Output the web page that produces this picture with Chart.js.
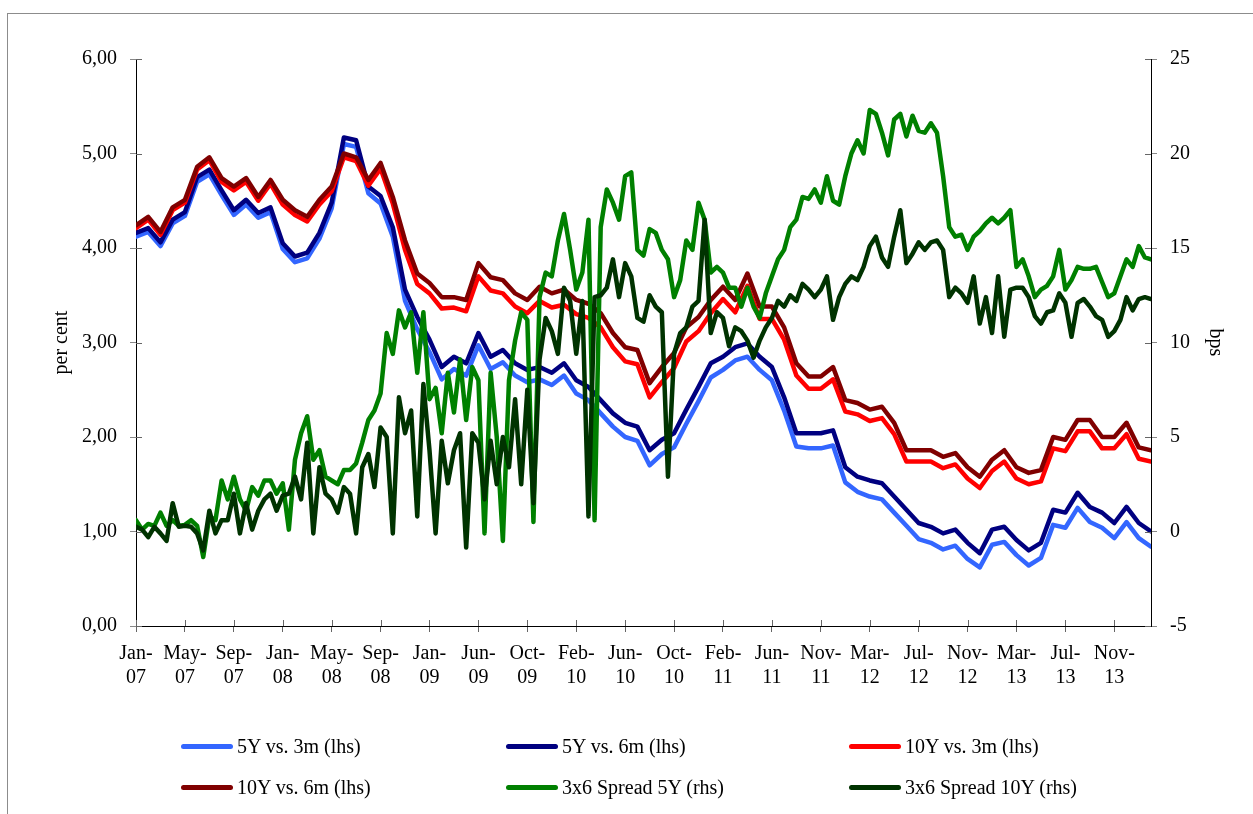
<!DOCTYPE html>
<html>
<head>
<meta charset="utf-8">
<script src="https://cdn.jsdelivr.net/npm/chart.js@4.4.0/dist/chart.umd.min.js"></script>
<style>
    body { margin: 0; background: #fff; }
    #wrap { position: relative; width: 1253px; height: 814px; }
    .legend-item {
        position: absolute;
        height: 24px;
        line-height: 24px;
        font: 20px 'Liberation Serif', 'Times New Roman', serif;
        color: #000;
        white-space: nowrap;
        display: flex;
        align-items: center;
    }
    .legend-item .swatch {
        display: inline-block;
        width: 52px;
        height: 5px;
        border-radius: 3px;
        margin-right: 4px;
    }
</style>
</head>
<body>
<div id="wrap">
    <canvas id="rates-chart" width="1253" height="814"></canvas>
    <div id="legend"></div>
</div>
<script>
// x axis tick labels (one every ~86 trading days)
const xLabels = [
    ['Jan-', '07'], ['May-', '07'], ['Sep-', '07'], ['Jan-', '08'], ['May-', '08'], ['Sep-', '08'],
    ['Jan-', '09'], ['Jun-', '09'], ['Oct-', '09'], ['Feb-', '10'], ['Jun-', '10'], ['Oct-', '10'],
    ['Feb-', '11'], ['Jun-', '11'], ['Nov-', '11'], ['Mar-', '12'], ['Jul-', '12'], ['Nov-', '12'],
    ['Mar-', '13'], ['Jul-', '13'], ['Nov-', '13']
];

// sampling step, in x-label intervals
const LHS_STEP = 0.25;
const RHS_STEP = 0.125;

// per cent (lhs)
const fiveY3m = [
    4.12, 4.17, 4.02, 4.26,  4.34, 4.70, 4.78, 4.56,  4.35, 4.46, 4.32, 4.38,
    3.99, 3.85, 3.89, 4.10,  4.42, 5.10, 5.07, 4.58,  4.47, 4.12, 3.44, 3.14,
    2.90, 2.61, 2.72, 2.65,  2.97, 2.72, 2.79, 2.65,  2.58, 2.61, 2.55, 2.65,
    2.46, 2.39, 2.25, 2.11,  2.00, 1.96, 1.70, 1.82,  1.89, 2.14, 2.38, 2.63,
    2.71, 2.81, 2.85, 2.71,  2.60, 2.28, 1.90, 1.88,  1.88, 1.91, 1.52, 1.42,
    1.37, 1.34, 1.20, 1.06,  0.92, 0.88, 0.81, 0.85,  0.71, 0.62, 0.86, 0.89,
    0.75, 0.64, 0.72, 1.07,  1.04, 1.25, 1.10, 1.04,  0.93, 1.10, 0.93, 0.84
];
const fiveY6m = [
    4.16, 4.21, 4.06, 4.30,  4.38, 4.75, 4.83, 4.61,  4.40, 4.51, 4.37, 4.43,
    4.05, 3.91, 3.95, 4.16,  4.48, 5.17, 5.14, 4.65,  4.55, 4.22, 3.56, 3.27,
    3.03, 2.74, 2.85, 2.78,  3.10, 2.85, 2.92, 2.78,  2.71, 2.74, 2.68, 2.78,
    2.60, 2.53, 2.39, 2.25,  2.15, 2.11, 1.86, 1.97,  2.04, 2.29, 2.53, 2.78,
    2.85, 2.95, 2.99, 2.85,  2.74, 2.42, 2.04, 2.04,  2.04, 2.07, 1.68, 1.58,
    1.54, 1.51, 1.37, 1.23,  1.09, 1.05, 0.98, 1.02,  0.88, 0.77, 1.02, 1.05,
    0.91, 0.80, 0.88, 1.23,  1.20, 1.41, 1.26, 1.20,  1.09, 1.26, 1.09, 1.00
];
const tenY3m = [
    4.21, 4.30, 4.14, 4.40,  4.48, 4.83, 4.93, 4.70,  4.61, 4.70, 4.50, 4.68,
    4.46, 4.35, 4.28, 4.46,  4.60, 4.96, 4.92, 4.66,  4.84, 4.47, 3.98, 3.62,
    3.52, 3.36, 3.37, 3.33,  3.70, 3.55, 3.52, 3.38,  3.31, 3.44, 3.37, 3.40,
    3.30, 3.26, 3.16, 2.95,  2.80, 2.77, 2.42, 2.58,  2.73, 3.01, 3.12, 3.31,
    3.46, 3.32, 3.60, 3.25,  3.25, 3.03, 2.65, 2.51,  2.51, 2.61, 2.27, 2.24,
    2.17, 2.20, 2.03, 1.74,  1.74, 1.74, 1.67, 1.71,  1.56, 1.46, 1.64, 1.74,
    1.56, 1.50, 1.53, 1.88,  1.85, 2.06, 2.06, 1.88,  1.88, 2.03, 1.77, 1.74
];
const tenY6m = [
    4.24, 4.33, 4.17, 4.43,  4.51, 4.86, 4.96, 4.74,  4.65, 4.74, 4.54, 4.72,
    4.51, 4.40, 4.33, 4.51,  4.65, 5.00, 4.96, 4.72,  4.90, 4.54, 4.08, 3.73,
    3.63, 3.48, 3.48, 3.45,  3.84, 3.69, 3.66, 3.52,  3.45, 3.59, 3.52, 3.56,
    3.45, 3.41, 3.31, 3.10,  2.95, 2.92, 2.57, 2.74,  2.89, 3.16, 3.27, 3.45,
    3.59, 3.45, 3.73, 3.38,  3.38, 3.16, 2.78, 2.64,  2.64, 2.74, 2.39, 2.36,
    2.29, 2.32, 2.15, 1.86,  1.86, 1.86, 1.79, 1.83,  1.68, 1.58, 1.76, 1.86,
    1.68, 1.62, 1.65, 2.00,  1.97, 2.18, 2.18, 2.00,  2.00, 2.15, 1.89, 1.86
];

// bps (rhs)
const spread5Y = [
    0.6, 0.1, 0.4, 0.3, 1.0, 0.3, 0.6, 0.3,
    0.35, 0.6, 0.3, -1.35, 0.8, 0.6, 2.7, 1.7,
    2.9, 1.7, 1.1, 2.35, 1.9, 2.7, 2.7, 2.0,
    2.55, 0.1, 3.8, 5.2, 6.1, 3.8, 4.3, 2.9,
    2.7, 2.5, 3.25, 3.25, 3.6, 4.7, 5.9, 6.4,
    7.3, 10.5, 9.4, 11.7, 10.8, 11.6, 8.4, 11.6,
    7.0, 7.6, 5.2, 8.4, 6.3, 9.1, 5.9, 8.7,
    8.0, -0.1, 8.4, 5.0, -0.5, 8.0, 10.1, 11.6,
    11.2, 0.5, 12.4, 13.7, 13.5, 15.4, 16.8, 14.9,
    12.8, 13.7, 16.5, 0.6, 16.1, 18.1, 17.4, 16.5,
    18.8, 19.0, 14.9, 14.6, 16.0, 15.8, 14.9, 14.4,
    12.4, 13.3, 15.4, 14.9, 17.4, 16.5, 13.7, 14.0,
    13.7, 12.9, 12.9, 11.9, 12.9, 11.9, 11.3, 12.6,
    13.5, 14.4, 14.9, 16.1, 16.5, 17.7, 17.6, 18.1,
    17.4, 18.8, 17.5, 17.3, 18.8, 20.0, 20.7, 20.0,
    22.3, 22.1, 21.1, 19.9, 21.8, 22.1, 20.9, 22.0,
    21.2, 21.1, 21.6, 21.1, 18.8, 16.1, 15.6, 15.7,
    14.9, 15.6, 15.9, 16.3, 16.6, 16.3, 16.6, 17.0,
    14.0, 14.4, 13.5, 12.4, 12.8, 13.0, 13.5, 14.9,
    12.8, 13.3, 14.0, 13.9, 13.9, 14.0, 13.2, 12.4,
    12.6, 13.5, 14.4, 14.0, 15.1, 14.5, 14.4
];
const spread10Y = [
    0.25, 0.1, -0.3, 0.25, -0.1, -0.5, 1.5, 0.25,
    0.3, 0.25, -0.1, -1.0, 1.1, -0.1, 0.6, 0.6,
    2.0, -0.1, 1.5, 0.1, 1.1, 1.7, 2.0, 1.1,
    1.9, 2.0, 2.9, 1.7, 4.7, -0.1, 3.4, 2.0,
    1.7, 1.0, 2.35, 2.0, -0.1, 3.4, 4.1, 2.35,
    5.5, 5.0, -0.1, 7.1, 5.2, 6.4, 0.8, 7.8,
    4.3, -0.1, 4.8, 2.55, 4.3, 5.2, -0.85, 5.2,
    4.7, 1.7, 4.8, 2.5, 5.0, 3.4, 7.0, 2.5,
    7.5, 1.5, 9.1, 11.3, 10.6, 9.4, 12.9, 12.2,
    9.4, 12.2, 0.8, 12.4, 12.5, 12.9, 14.4, 12.4,
    14.2, 13.5, 11.3, 11.1, 12.5, 11.9, 11.6, 2.9,
    9.4, 10.5, 10.8, 11.9, 12.2, 16.5, 10.5, 11.6,
    11.3, 9.8, 10.8, 10.6, 10.1, 9.2, 10.1, 10.8,
    11.3, 12.2, 11.9, 12.5, 12.2, 13.1, 12.8, 12.4,
    12.8, 13.5, 11.2, 12.4, 13.1, 13.5, 13.3, 14.0,
    15.1, 15.6, 14.5, 14.0, 15.6, 17.0, 14.2, 14.7,
    15.3, 14.9, 15.3, 15.4, 14.9, 12.4, 12.9, 12.6,
    12.1, 13.5, 11.0, 12.4, 10.5, 13.5, 10.3, 12.8,
    12.9, 12.9, 12.4, 11.4, 11.0, 11.6, 11.7, 12.6,
    12.1, 10.3, 12.1, 12.3, 11.9, 11.4, 11.2, 10.3,
    10.6, 11.2, 12.4, 11.7, 12.3, 12.4, 12.3
];

const series = [
    { label: '5Y vs. 3m (lhs)', values: fiveY3m, step: LHS_STEP, axis: 'y', color: '#3366ff' },
    { label: '5Y vs. 6m (lhs)', values: fiveY6m, step: LHS_STEP, axis: 'y', color: '#000080' },
    { label: '10Y vs. 3m (lhs)', values: tenY3m, step: LHS_STEP, axis: 'y', color: '#ff0000' },
    { label: '10Y vs. 6m (lhs)', values: tenY6m, step: LHS_STEP, axis: 'y', color: '#800000' },
    { label: '3x6 Spread 5Y (rhs)', values: spread5Y, step: RHS_STEP, axis: 'y1', color: '#008000' },
    { label: '3x6 Spread 10Y (rhs)', values: spread10Y, step: RHS_STEP, axis: 'y1', color: '#003300' }
];

const FONT = "'Liberation Serif', 'Times New Roman', serif";
Chart.defaults.font.family = FONT;
Chart.defaults.font.size = 20;
Chart.defaults.color = '#000';

// grey frame round the whole chart
const framePlugin = {
    id: 'frame',
    beforeDraw(chart) {
        const ctx = chart.ctx;
        ctx.save();
        ctx.fillStyle = '#fff';
        ctx.fillRect(0, 0, chart.width, chart.height);
        ctx.strokeStyle = '#8c8c8c';
        ctx.lineWidth = 1;
        ctx.strokeRect(7.5, 13.5, chart.width + 20, chart.height + 20);
        ctx.restore();
    }
};

// tick marks that cross the axis line (inner half)
const crossTicks = {
    id: 'crossTicks',
    afterDraw(chart) {
        const ctx = chart.ctx;
        const area = chart.chartArea;
        ctx.save();
        ctx.strokeStyle = '#666';
        ctx.lineWidth = 1;
        const x = chart.scales.x;
        x.ticks.forEach(t => {
            const px = Math.round(x.getPixelForValue(t.value)) + 0.5;
            ctx.beginPath();
            ctx.moveTo(px, area.bottom);
            ctx.lineTo(px, area.bottom - 6);
            ctx.stroke();
        });
        const y = chart.scales.y;
        y.ticks.forEach(t => {
            const py = Math.round(y.getPixelForValue(t.value)) + 0.5;
            ctx.beginPath();
            ctx.moveTo(area.left, py);
            ctx.lineTo(area.left + 6, py);
            ctx.stroke();
        });
        const y1 = chart.scales.y1;
        y1.ticks.forEach(t => {
            const py = Math.round(y1.getPixelForValue(t.value)) + 0.5;
            ctx.beginPath();
            ctx.moveTo(area.right, py);
            ctx.lineTo(area.right - 6, py);
            ctx.stroke();
        });
        ctx.restore();
    }
};

const datasets = series.map((s, i) => ({
    label: s.label,
    data: s.values.map((v, j) => ({ x: j * s.step, y: v })),
    yAxisID: s.axis,
    borderColor: s.color,
    backgroundColor: s.color,
    borderWidth: 4.5,
    borderCapStyle: 'round',
    borderJoinStyle: 'round',
    pointRadius: 0,
    tension: 0,
    order: series.length - i   // later series drawn on top
}));

const ctx = document.getElementById('rates-chart').getContext('2d');
const ratesChart = new Chart(ctx, {
    type: 'line',
    data: { datasets: datasets },
    plugins: [framePlugin, crossTicks],
    options: {
        responsive: false,
        animation: false,
        layout: { padding: { top: 59, bottom: 128, left: 0, right: 0 } },
        plugins: {
            legend: { display: false },
            tooltip: { enabled: false }
        },
        scales: {
            x: {
                type: 'linear',
                min: 0,
                max: 20.75,
                afterFit: scale => { scale.height = 60; },
                afterBuildTicks: scale => {
                    scale.ticks = xLabels.map((_, i) => ({ value: i }));
                },
                ticks: {
                    autoSkip: false,
                    maxRotation: 0,
                    padding: 10,
                    callback: value => xLabels[value]
                },
                grid: { drawOnChartArea: false, color: '#666', tickLength: 6 },
                border: { color: '#000', width: 1 }
            },
            y: {
                position: 'left',
                min: 0,
                max: 6,
                afterFit: scale => { scale.width = 136; },
                ticks: {
                    stepSize: 1,
                    padding: 13,
                    callback: v => v.toFixed(2).replace('.', ',')
                },
                grid: { drawOnChartArea: false, color: '#888', tickLength: 6 },
                border: { color: '#000', width: 1 },
                title: { display: true, text: 'per cent', padding: { top: 50, bottom: 0 } }
            },
            y1: {
                position: 'right',
                min: -5,
                max: 25,
                afterFit: scale => { scale.width = 102; },
                ticks: { stepSize: 5, padding: 13 },
                grid: { drawOnChartArea: false, color: '#888', tickLength: 6 },
                border: { color: '#000', width: 1 },
                title: { display: true, text: 'bps', padding: { top: 26, bottom: 0 } }
            }
        }
    }
});

// legend in three columns, like the original
const legendSpots = [[181, 734], [506, 734], [849, 734], [181, 775], [506, 775], [849, 775]];
const legendBox = document.getElementById('legend');
ratesChart.data.datasets.forEach((ds, k) => {
    const item = document.createElement('div');
    item.className = 'legend-item';
    item.style.left = legendSpots[k][0] + 'px';
    item.style.top = legendSpots[k][1] + 'px';
    const sw = document.createElement('span');
    sw.className = 'swatch';
    sw.style.background = ds.borderColor;
    item.appendChild(sw);
    item.appendChild(document.createTextNode(ds.label));
    legendBox.appendChild(item);
});
</script>
</body>
</html>
